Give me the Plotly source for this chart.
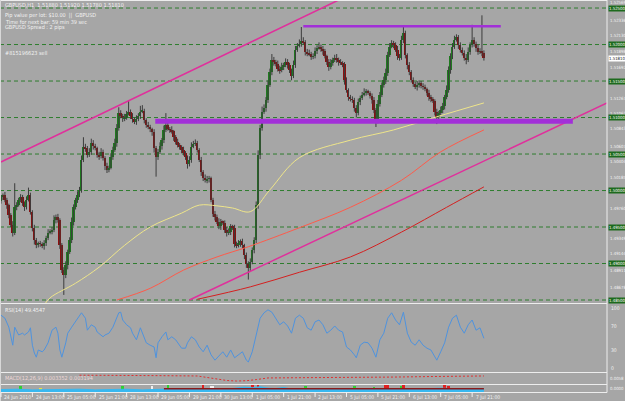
import plotly.graph_objects as go

# ---------------- data (GBPUSD H1) ----------------
closes = [
 1.4991, 1.4994, 1.4987, 1.4980, 1.4966, 1.4953, 1.4942, 1.4977, 1.4980, 1.4987,
 1.4991, 1.4983, 1.4977, 1.4987, 1.4994, 1.4971, 1.4949, 1.4932, 1.4925, 1.4928,
 1.4927, 1.4924, 1.4928, 1.4935, 1.4942, 1.4944, 1.4946, 1.4960, 1.4964, 1.4960,
 1.4925, 1.4891, 1.4884, 1.4898, 1.4916, 1.4932, 1.4957, 1.4977, 1.4987, 1.4994,
 1.5001, 1.5042, 1.5060, 1.5058, 1.5049, 1.5053, 1.5065, 1.5061, 1.5058, 1.5049,
 1.5047, 1.5053, 1.5045, 1.5034, 1.5028, 1.5031, 1.5046, 1.5056, 1.5065, 1.5086,
 1.5106, 1.5102, 1.5099, 1.5100, 1.5105, 1.5108, 1.5102, 1.5098, 1.5094, 1.5098,
 1.5102, 1.5108, 1.5109, 1.5097, 1.5090, 1.5087, 1.5084, 1.5080, 1.5058, 1.5046,
 1.5053, 1.5061, 1.5069, 1.5083, 1.5090, 1.5084, 1.5083, 1.5081, 1.5073, 1.5067,
 1.5062, 1.5060, 1.5056, 1.5051, 1.5046, 1.5036, 1.5042, 1.5060, 1.5064, 1.5065,
 1.5056, 1.5042, 1.5025, 1.5017, 1.5014, 1.5016, 1.5017, 1.4987, 1.4968, 1.4964,
 1.4957, 1.4951, 1.4957, 1.4956, 1.4946, 1.4942, 1.4943, 1.4951, 1.4949, 1.4927,
 1.4925, 1.4928, 1.4931, 1.4925, 1.4912, 1.4899, 1.4894, 1.4902, 1.4919, 1.4932,
 1.4980, 1.5049, 1.5086, 1.5108, 1.5113, 1.5124, 1.5145, 1.5162, 1.5179, 1.5176,
 1.5173, 1.5167, 1.5165, 1.5169, 1.5172, 1.5176, 1.5172, 1.5165, 1.5157, 1.5172,
 1.5193, 1.5198, 1.5201, 1.5205, 1.5203, 1.5190, 1.5188, 1.5187, 1.5183, 1.5184,
 1.5191, 1.5195, 1.5197, 1.5194, 1.5191, 1.5184, 1.5176, 1.5169, 1.5175, 1.5179,
 1.5182, 1.5179, 1.5176, 1.5175, 1.5173, 1.5151, 1.5138, 1.5128, 1.5125, 1.5124,
 1.5113, 1.5106, 1.5121, 1.5127, 1.5131, 1.5134, 1.5135, 1.5134, 1.5130, 1.5124,
 1.5110, 1.5097, 1.5119, 1.5131, 1.5145, 1.5151, 1.5161, 1.5186, 1.5197, 1.5202,
 1.5199, 1.5193, 1.5184, 1.5182, 1.5206, 1.5216, 1.5186, 1.5172, 1.5162, 1.5151,
 1.5146, 1.5142, 1.5145, 1.5147, 1.5143, 1.5142, 1.5139, 1.5134, 1.5128, 1.5125,
 1.5123, 1.5108, 1.5101, 1.5106, 1.5110, 1.5116, 1.5128, 1.5138, 1.5165, 1.5184,
 1.5197, 1.5206, 1.5210, 1.5199, 1.5193, 1.5188, 1.5182, 1.5179, 1.5190, 1.5199,
 1.5206, 1.5201, 1.5195, 1.5190, 1.5191, 1.5188, 1.5181,
]
first_open = 1.4985

upper_wick_pips = [
 3,2,4,3,2,3,5,33,4,3, 4,3,2,5,10,3,2,4,3,2, 3,2,4,3,5,3,4,6,3,4,
 2,3,4,5,3,4,6,4,3,5, 4,6,13,4,3,5,6,4,3,2, 4,5,3,2,4,3,5,4,6,5,
 8,4,3,5,4,16,3,4,2,5, 4,8,8,3,2,4,3,2,4,3, 4,5,3,6,16,4,3,5,2,3,
 4,3,2,4,3,2,5,6,4,5, 3,2,4,3,5,4,3,2,3,4, 3,5,4,2,3,4,5,3,2,4,
 3,4,2,3,2,3,4,5,3,4, 5,6,4,7,5,4,6,5,8,4, 3,5,4,6,3,5,4,3,2,6,
 5,4,6,19,5,3,4,5,3,4, 5,4,6,3,4,3,2,4,5,3, 4,5,3,4,2,3,4,2,3,4,
 3,4,5,3,4,6,4,3,2,3, 4,3,5,4,3,5,6,4,5,4, 3,4,5,3,6,8,3,2,4,3,
 4,3,5,4,3,4,3,2,4,3, 3,2,4,3,5,4,3,6,5,4, 5,6,4,3,4,3,4,5,6,4,
 21,4,3,5,4,49,4,
]
lower_wick_pips = [
 3,4,3,5,4,3,5,3,4,2, 3,4,5,3,2,4,5,6,4,3, 4,3,5,4,3,2,4,3,5,4,
 5,4,27,4,6,3,4,5,3,4, 3,4,3,5,4,3,4,5,3,4, 5,3,4,6,4,3,2,4,3,5,
 4,3,5,4,3,2,4,5,3,4, 3,4,2,5,4,3,4,5,6,27, 4,3,5,4,3,2,4,3,5,4,
 3,4,5,3,4,6,3,4,2,3, 4,3,5,4,3,4,5,3,4,5, 3,4,5,3,4,5,3,4,3,5,
 4,3,5,4,6,5,16,4,3,5, 4,5,6,4,3,5,4,3,4,5, 3,4,5,3,4,3,5,4,6,3,
 4,3,2,4,3,5,4,3,4,3, 3,4,2,4,5,3,4,5,3,4, 3,4,5,3,4,6,4,5,3,4,
 5,6,3,4,3,2,4,3,4,5, 4,10,5,4,3,4,5,4,3,2, 4,3,5,4,3,4,5,6,4,3,
 4,3,5,4,3,4,3,4,5,4, 3,5,10,4,3,4,5,3,4,5, 4,3,2,5,4,3,4,6,3,4,
 3,4,5,4,3,4,3,
]

# moving averages
yellow_bars = [22, 25, 38, 50, 63, 76, 92, 101, 110, 118, 127, 137, 152, 178, 200, 222, 246]
yellow_vals = [1.4843, 1.4853, 1.4873, 1.4895, 1.4925, 1.4950, 1.4969, 1.4980, 1.4979,
               1.4976, 1.4971, 1.5001, 1.5045, 1.5069, 1.5083, 1.5101, 1.5120]
red1_bars = [59, 76, 93, 110, 126, 152, 178, 204, 224, 246]
red1_vals = [1.4850, 1.4866, 1.4891, 1.4909, 1.4923, 1.4949, 1.4977, 1.5014, 1.5053, 1.5083]
red2_bars = [100, 127, 152, 178, 204, 227, 246]
red2_vals = [1.4851, 1.4868, 1.4888, 1.4909, 1.4943, 1.4977, 1.5005]

# drawn objects
chan_up_bars = [0, 172]
chan_up_vals = [1.5039, 1.5261]
chan_lo_bars = [96, 308.7]
chan_lo_vals = [1.4850, 1.5120]
res_bars = [154, 254.6]
res_val = 1.5225
sup_bars = [78.6, 291.3]
sup_val = 1.5095

grid_levels = [1.4850, 1.4900, 1.4950, 1.5000, 1.5050, 1.5100, 1.5150, 1.5200, 1.5250]
price_labels = [1.52569, 1.52336, 1.52130, 1.51898, 1.51692, 1.51267, 1.51062, 1.50843,
                1.50607, 1.50404, 1.50185, 1.49760, 1.49349, 1.49144, 1.48911, 1.48678]

# RSI(14)
rsi_bars = [0,2,4,6,7,9,11,12,14,15, 16,17,18,19,21,22,24,26,28,29,
            30,31,33,34,36,39,41,43,44,46, 48,49,52,53,55,57,58,60,61,62,
            64,66,67,69,71,72,74,76,78,79, 80,82,84,85,87,89,90,92,94,95,
            97,99,101,103,105,107,109,111,113,115, 117,119,121,123,125,126,128,130,132,134,
            136,138,140,142,144,146,148,150,152,154, 156,158,160,162,164,166,168,170,172,174,
            176,178,180,181,183,185,187,189,191,193, 195,197,199,201,203,205,207,209,211,213,
            215,217,219,221,222,224,226,228,230,232, 234,236,238,240,242,244,246]
rsi_vals = [88,83,68,38,68,55,58,55,60,67, 38,25,18,30,27,30,42,63,68,58,
            30,18,42,58,68,83,92,83,63,72, 68,60,52,55,58,68,75,92,93,80,
            72,67,58,47,67,58,42,38,35,17, 42,52,60,47,52,47,42,33,33,42,
            52,47,35,27,38,22,13,20,27,18, 30,17,22,27,13,10,27,55,83,92,
            97,93,83,72,77,70,58,83,88,83, 67,63,77,80,72,58,63,70,63,60,
            35,30,22,17,38,43,42,33,18,47, 58,83,92,80,72,93,58,43,38,47,
            38,33,30,18,13,27,42,68,83,88, 68,58,72,80,63,67,49.45]
rsi_levels = [100, 70, 30, 0]

# third window (signal line, normalised 0..1)
macd_bars = [40, 60, 80, 100, 105, 110, 115, 120, 125, 130, 136, 150, 160, 180, 200, 220, 246]
macd_vals = [0.80, 0.80, 0.76, 0.73, 0.60, 0.45, 0.32, 0.27, 0.30, 0.40, 0.55, 0.57, 0.57,
             0.60, 0.63, 0.68, 0.73]

# bottom window (histogram, normalised 0..1)
cyan_bars = [0,8,16,24,32,40,48,56,64,72, 80,88,96,104,112,120,124,128,132,136,
             140,144,148,152,160,168,176,184,192,200, 208,216,224,232,240,246]
cyan_vals = [0.35,0.4,0.3,0.35,0.45,0.4,0.3,0.35,0.4,0.3, 0.35,0.45,0.35,0.4,0.3,0.5,0.7,0.6,0.75,0.55,
             0.5,0.65,0.4,0.35,0.4,0.45,0.35,0.4,0.5,0.45, 0.35,0.4,0.55,0.45,0.5,0.4]
spike_bars = [10, 20, 62, 77, 85, 103, 107, 108, 128, 131, 139, 155, 180, 190, 196, 197, 204, 205, 226, 228, 236]
spike_vals = [0.9, 0.6, 0.9, 0.8, 1.0, 1.0, 0.9, 0.9, 1.0, 1.0, 0.6, 0.9, 0.8, 0.7, 1.0, 1.0, 0.9, 1.0, 1.0, 0.9, 0.6]
spike_colors = ['#30D030','#E8E040','#30D030','#F0F0F0','#30D030','#E02020','#F0F0F0','#F0F0F0',
                '#E02020','#E02020','#E8E040','#30D030','#30D030','#30D030','#E02020','#E02020',
                '#30D030','#E02020','#E02020','#E02020','#E8E040']
base_line_bars = [83, 246]
base_line_vals = [0.45, 0.45]

time_label_bars = [0, 16, 32, 48, 64, 80, 96, 112, 128, 144, 160, 176, 192, 208, 224, 240]
time_labels = ["24 Jun 2010", "24 Jun 13:00", "25 Jun 05:00", "25 Jun 21:00", "28 Jun 13:00",
               "29 Jun 05:00", "29 Jun 21:00", "30 Jun 13:00", "1 Jul 05:00", "1 Jul 21:00",
               "2 Jul 13:00", "5 Jul 05:00", "5 Jul 21:00", "6 Jul 13:00", "7 Jul 05:00", "7 Jul 21:00"]

title_text = "GBPUSD,H1  1.51880 1.51920 1.51780 1.51810"
info_lines = ["Pip value per lot: $10.00  ||  GBPUSD", "Time for next bar: 59 min 39 sec",
              "GBPUSD Spread : 2 pips"]
order_text = "#815196623 sell"
rsi_title = "RSI(14) 49.4547"
macd_title = "MACD(12,26,9) 0.003352 0.003194"

# ---------------- derived OHLC ----------------
n = len(closes)
opens = [first_open] + closes[:-1]
highs = [max(o, c) + w * 0.0001 for o, c, w in zip(opens, closes, upper_wick_pips)]
lows = [min(o, c) - w * 0.0001 for o, c, w in zip(opens, closes, lower_wick_pips)]

# ---------------- figure ----------------
W, H = 625, 401
BG = "#A6A6A6"
TXT = "#F2F2F2"
FONT = "Liberation Sans Narrow, DejaVu Sans Condensed, Liberation Sans"
XR = 607 / W   # right edge of plotting area (paper)

def py(px):  # pixel row -> paper y
    return (H - px) / H

fig = go.Figure()

# wicks
wx, wy = [], []
for i in range(n):
    wx += [i, i, None]
    wy += [lows[i], highs[i], None]
fig.add_trace(go.Scatter(x=wx, y=wy, mode="lines", line=dict(color="#3C3C3C", width=1),
                         hoverinfo="skip", showlegend=False))
# bodies
body_base = [min(o, c) for o, c in zip(opens, closes)]
body_h = [max(abs(c - o), 0.00006) for o, c in zip(opens, closes)]
body_col = ["#1F7A1F" if c >= o else "#8A1010" for o, c in zip(opens, closes)]
fig.add_trace(go.Bar(x=list(range(n)), y=body_h, base=body_base, width=1.0,
                     marker=dict(color=body_col, line=dict(width=0)), showlegend=False,
                     hoverinfo="skip"))

# moving averages
fig.add_trace(go.Scatter(x=yellow_bars, y=yellow_vals, mode="lines", line=dict(color="#EEE58A", width=1),
                         line_shape="spline", showlegend=False))
fig.add_trace(go.Scatter(x=red1_bars, y=red1_vals, mode="lines", line=dict(color="#FF5A4A", width=1),
                         line_shape="spline", showlegend=False))
fig.add_trace(go.Scatter(x=red2_bars, y=red2_vals, mode="lines", line=dict(color="#D42020", width=1),
                         line_shape="spline", showlegend=False))

# channel lines
fig.add_trace(go.Scatter(x=chan_up_bars, y=chan_up_vals, mode="lines",
                         line=dict(color="#E0309C", width=1.5), showlegend=False))
fig.add_trace(go.Scatter(x=chan_lo_bars, y=chan_lo_vals, mode="lines",
                         line=dict(color="#E0309C", width=1.5), showlegend=False))
# horizontal resistance / support
fig.add_trace(go.Scatter(x=res_bars, y=[res_val, res_val], mode="lines",
                         line=dict(color="#A22FD8", width=2.5), showlegend=False))
fig.add_trace(go.Scatter(x=sup_bars, y=[sup_val, sup_val], mode="lines",
                         line=dict(color="#A22FD8", width=5), showlegend=False))

# RSI
fig.add_trace(go.Scatter(x=rsi_bars, y=rsi_vals, mode="lines", yaxis="y2",
                         line=dict(color="#4F93DE", width=1), showlegend=False))
# third window
fig.add_trace(go.Scatter(x=macd_bars, y=macd_vals, mode="lines", yaxis="y3",
                         line=dict(color="#E03030", width=1, dash="2px,2px"), showlegend=False))
# bottom window
fig.add_trace(go.Scatter(x=cyan_bars, y=cyan_vals, mode="lines", yaxis="y4", fill="tozeroy",
                         fillcolor="#38B8F0", line=dict(color="#38B8F0", width=1), showlegend=False))
fig.add_trace(go.Bar(x=spike_bars, y=spike_vals, yaxis="y4", width=1.3,
                     marker=dict(color=spike_colors, line=dict(width=0)), showlegend=False))
fig.add_trace(go.Scatter(x=base_line_bars, y=base_line_vals, mode="lines", yaxis="y4",
                         line=dict(color="#8B1A1A", width=1.5), showlegend=False))

shapes = []
for g in grid_levels:
    shapes.append(dict(type="line", xref="paper", yref="y", x0=0, x1=XR, y0=g, y1=g,
                       line=dict(color="#2E7D2E", width=1, dash="4px,3px"), layer="below"))
# window separators
for px in [0.5, 303.5, 372.5, 384.5, 392.5]:
    shapes.append(dict(type="line", xref="paper", yref="paper", x0=0, x1=XR, y0=py(px), y1=py(px),
                       line=dict(color="#EDEDED", width=1)))
shapes.append(dict(type="line", xref="paper", yref="paper", x0=XR, x1=XR, y0=py(392.5), y1=1,
                   line=dict(color="#EDEDED", width=1)))
shapes.append(dict(type="line", xref="paper", yref="paper", x0=0.5 / W, x1=0.5 / W, y0=0, y1=1,
                   line=dict(color="#D8D8D8", width=1)))
for b in time_label_bars:
    shapes.append(dict(type="line", xref="x", yref="paper", x0=b, x1=b, y0=py(392.5), y1=py(397),
                       line=dict(color=TXT, width=1)))

ann = []
def text(x, y, s, xref="paper", yref="paper", size=5.5, color=TXT, **kw):
    d = dict(x=x, y=y, xref=xref, yref=yref, text=s, showarrow=False, xanchor="left",
             yanchor="middle", font=dict(family=FONT, size=size, color=color))
    d.update(kw)
    ann.append(d)

LX = 608 / W
AX = 4.3
for p in price_labels:
    text(LX, p, f"{p:.5f}", yref="y", size=AX)
for g in grid_levels:
    text(LX, g, f"{g:.5f}", yref="y", size=AX, color="#FFFFFF", bgcolor="#1D6A1D",
         borderpad=0)
text(LX, closes[-1], f"{closes[-1]:.5f}", yref="y", size=AX, color="#202020",
     bgcolor="#FFFFFF", borderpad=0)
for lv in rsi_levels:
    text(LX + 1 / W, lv, str(lv), yref="y2", size=5)
text(LX, py(378), "0.0058", size=AX)
text(LX, py(388.5), "0.0000", size=AX)

for b, s in zip(time_label_bars, time_labels):
    text(b + 0.7, py(397), s, xref="x", size=5)

text(3 / W, py(5), title_text)
for k, s in enumerate(info_lines):
    text(3 / W, py(15 + 6.5 * k), s)
text(3 / W, py(53), order_text)
text(3 / W, py(310), rsi_title)
text(3 / W, py(377.5), macd_title, color="#F0D8D8")

fig.update_layout(
    width=W, height=H, margin=dict(l=0, r=0, t=0, b=0),
    paper_bgcolor=BG, plot_bgcolor=BG, showlegend=False, barmode="overlay", bargap=0,
    xaxis=dict(domain=[0, XR], range=[-0.5, 308.7], visible=False, fixedrange=True),
    yaxis=dict(domain=[py(303), 1], range=[1.48459, 1.52610], visible=False),
    yaxis2=dict(domain=[py(372), py(305)], range=[-6.7, 105], visible=False),
    yaxis3=dict(domain=[py(384), py(373)], range=[0, 1], visible=False),
    yaxis4=dict(domain=[py(392), py(385)], range=[0, 1], visible=False),
    shapes=shapes, annotations=ann,
)

fig.write_html("out.html")
